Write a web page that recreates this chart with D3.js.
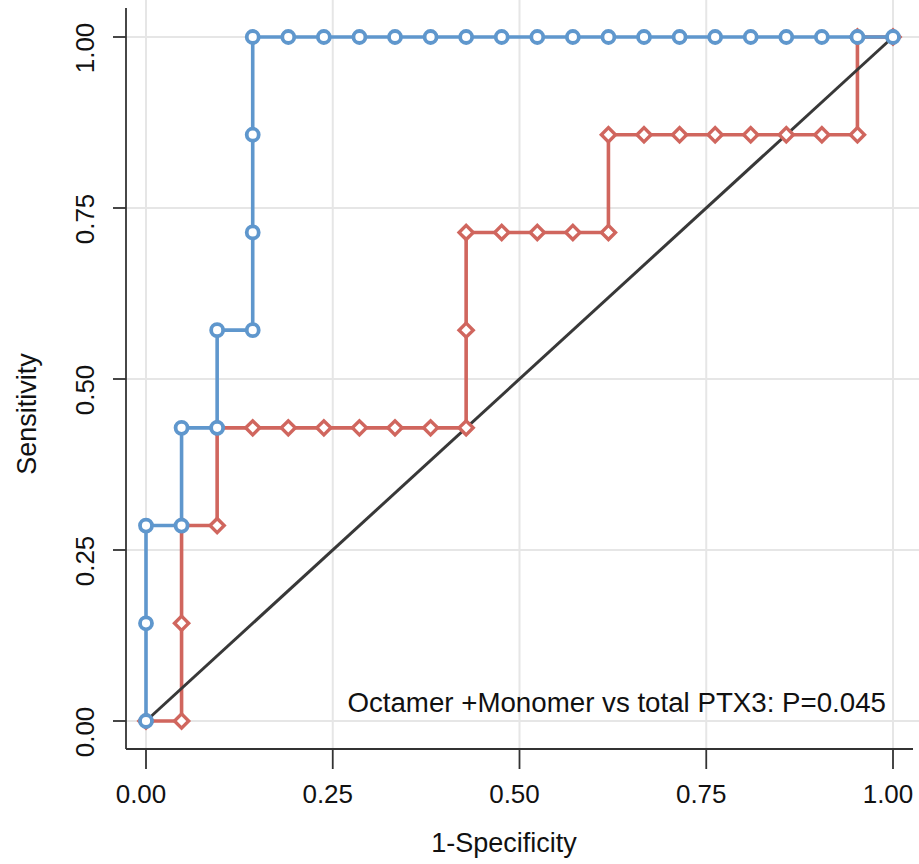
<!DOCTYPE html>
<html>
<head>
<meta charset="utf-8">
<script src="https://cdn.jsdelivr.net/npm/d3@7"></script>
<style>
  body { margin: 0; background: #fff; }
  text { font-family: "Liberation Sans", Arial, sans-serif; fill: #111; }
</style>
</head>
<body>
<div id="chart"></div>
<script>
// ROC step points, counted as false positives (of 21 negatives) and true positives (of 7 positives)
const nNeg = 21, nPos = 7;
const octamerFP = [0,0,0,1,1,2,2,3,3,3,3,4,5,6,7,8,9,10,11,12,13,14,15,16,17,18,19,20,21];
const octamerTP = [0,1,2,2,3,3,4,4,5,6,7,7,7,7,7,7,7,7,7,7,7,7,7,7,7,7,7,7,7];
const totalFP = [0,1,1,1,2,2,3,4,5,6,7,8,9,9,9,10,11,12,13,13,14,15,16,17,18,19,20,20,21];
const totalTP = [0,0,1,2,2,3,3,3,3,3,3,3,3,4,5,5,5,5,5,6,6,6,6,6,6,6,6,7,7];
const ticks = [0, 0.25, 0.5, 0.75, 1];
const note = "Octamer +Monomer vs total PTX3: P=0.045";

const W = 919, H = 864;
const svg = d3.select("#chart").append("svg")
    .attr("width", W)
    .attr("height", H);

const x = d3.scaleLinear().domain([0, 1]).range([146, 893]);
const y = d3.scaleLinear().domain([0, 1]).range([721, 37]);

const plotL = 126, plotR = 913, plotT = 8, plotB = 749;

const toPts = (fp, tp) => fp.map((d, i) => ({ x: d / nNeg, y: tp[i] / nPos }));
const blue = toPts(octamerFP, octamerTP);
const red = toPts(totalFP, totalTP);

// grid
svg.append("g").selectAll("line.vg")
    .data(ticks).join("line")
    .attr("x1", d => x(d)).attr("x2", d => x(d))
    .attr("y1", 0).attr("y2", plotB)
    .attr("stroke", "#e6e6e6").attr("stroke-width", 2);
svg.append("g").selectAll("line.hg")
    .data(ticks).join("line")
    .attr("y1", d => y(d)).attr("y2", d => y(d))
    .attr("x1", plotL).attr("x2", W)
    .attr("stroke", "#e6e6e6").attr("stroke-width", 2);

const line = d3.line().x(d => x(d.x)).y(d => y(d.y));

const redCol = "#d0665e", blueCol = "#5f97cd";

svg.append("path")
    .datum(red)
    .attr("d", line)
    .attr("fill", "none")
    .attr("stroke", redCol)
    .attr("stroke-width", 3.6);

// reference diagonal
svg.append("path")
    .datum([{ x: 0, y: 0 }, { x: 1, y: 1 }])
    .attr("d", line)
    .attr("fill", "none")
    .attr("stroke", "#383838")
    .attr("stroke-width", 3);

const diamond = d3.symbol().type(d3.symbolSquare).size(100);
svg.append("g").selectAll("path")
    .data(red).join("path")
    .attr("d", diamond)
    .attr("transform", d => `translate(${x(d.x)},${y(d.y)}) rotate(45)`)
    .attr("fill", "#fff")
    .attr("stroke", redCol)
    .attr("stroke-width", 3.4);

svg.append("path")
    .datum(blue)
    .attr("d", line)
    .attr("fill", "none")
    .attr("stroke", blueCol)
    .attr("stroke-width", 3.6);

svg.append("g").selectAll("circle")
    .data(blue).join("circle")
    .attr("cx", d => x(d.x))
    .attr("cy", d => y(d.y))
    .attr("r", 6)
    .attr("fill", "#fff")
    .attr("stroke", blueCol)
    .attr("stroke-width", 3.8);

// axes
const axisCol = "#333";
svg.append("line")
    .attr("x1", plotL).attr("x2", plotL)
    .attr("y1", plotT).attr("y2", plotB)
    .attr("stroke", axisCol).attr("stroke-width", 1.8);
svg.append("line")
    .attr("x1", plotL).attr("x2", plotR)
    .attr("y1", plotB).attr("y2", plotB)
    .attr("stroke", axisCol).attr("stroke-width", 1.8);

svg.append("g").selectAll("line")
    .data(ticks).join("line")
    .attr("x1", d => x(d)).attr("x2", d => x(d))
    .attr("y1", plotB).attr("y2", plotB + 20)
    .attr("stroke", axisCol).attr("stroke-width", 1.8);
svg.append("g").selectAll("line")
    .data(ticks).join("line")
    .attr("y1", d => y(d)).attr("y2", d => y(d))
    .attr("x1", plotL - 13).attr("x2", plotL)
    .attr("stroke", axisCol).attr("stroke-width", 1.8);

const fmt = d3.format(".2f");
svg.append("g").selectAll("text")
    .data(ticks).join("text")
    .attr("x", d => x(d) - 5)
    .attr("y", 803)
    .attr("text-anchor", "middle")
    .attr("font-size", 26)
    .text(fmt);
svg.append("g").selectAll("text")
    .data(ticks).join("text")
    .attr("transform", d => `translate(94,${y(d) + 11}) rotate(-90)`)
    .attr("text-anchor", "middle")
    .attr("font-size", 26)
    .text(fmt);

svg.append("text")
    .attr("x", 504)
    .attr("y", 852)
    .attr("text-anchor", "middle")
    .attr("font-size", 27)
    .text("1-Specificity");
svg.append("text")
    .attr("transform", "translate(36,414) rotate(-90)")
    .attr("text-anchor", "middle")
    .attr("font-size", 27)
    .text("Sensitivity");

svg.append("text")
    .attr("x", 886)
    .attr("y", 712)
    .attr("text-anchor", "end")
    .attr("font-size", 27.7)
    .text(note);
</script>
</body>
</html>
